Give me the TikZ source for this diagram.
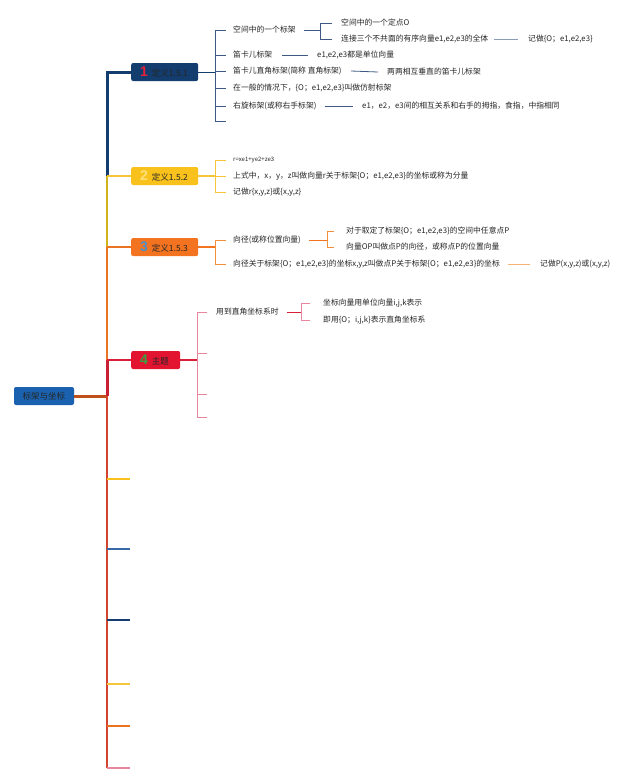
\documentclass[tikz,border=0pt]{standalone}
\usepackage{fontspec}
\setmainfont{Noto Sans CJK SC}
\newfontfamily\numfont{Liberation Sans}
\definecolor{navy}{HTML}{123D6E}
\definecolor{navyl}{HTML}{3E5A82}
\definecolor{ybox}{HTML}{F9C11B}
\definecolor{yline}{HTML}{F6C63A}
\definecolor{obox}{HTML}{F47320}
\definecolor{oline}{HTML}{F0913A}
\definecolor{rbox}{HTML}{E31430}
\definecolor{rline}{HTML}{D8203A}
\definecolor{pink}{HTML}{E8869E}
\definecolor{rootblue}{HTML}{1A62B0}
\definecolor{olive}{HTML}{D3B31A}
\definecolor{otrunk}{HTML}{E9731F}
\definecolor{rtrunk}{HTML}{C92036}
\definecolor{ltrunk}{HTML}{D2442E}
\definecolor{rootline}{HTML}{C0501A}
\definecolor{txt}{HTML}{262626}
\definecolor{numone}{HTML}{E8203A}
\definecolor{numtwo}{HTML}{FFE27A}
\definecolor{numthree}{HTML}{4A90C8}
\definecolor{numfour}{HTML}{3AA040}
\definecolor{bluetick}{HTML}{3868A8}
\begin{document}
\begin{tikzpicture}[x=1pt,y=-1pt,
  leaf/.style={anchor=west, inner sep=0pt, font=\fontsize{7.8}{9}\selectfont, text=txt},
  tiny/.style={leaf, font=\fontsize{6}{7}\selectfont},
  box/.style={anchor=west, rounded corners=2pt, minimum height=18pt, inner sep=0pt, font=\fontsize{8.5}{9}\selectfont, text=txt},
  rootbox/.style={rounded corners=2pt, minimum width=60pt, minimum height=18pt, inner sep=0pt, fill=rootblue, font=\fontsize{8.5}{9}\selectfont, text=txt},
  l1/.style={draw=navyl, line width=0.8pt},
  l2/.style={draw=yline, line width=0.8pt},
  l3/.style={draw=oline, line width=0.8pt},
  l4/.style={draw=pink, line width=0.8pt}]
\useasboundingbox (0,0) rectangle (640,782);
\fill[white] (0,0) rectangle (640,782);

% root
\node[rootbox] (root) at (44,396) {标架与坐标};

% main boxes
\node[box, fill=navy] (b1) at (131,72) {\hbox to 67pt{\hspace{9pt}{\numfont\bfseries\fontsize{14}{14}\selectfont\color{numone}1}\hspace{4pt}定义1.5.1\hfil}};
\node[box, fill=ybox] (b2) at (131,176) {\hbox to 67pt{\hspace{9pt}{\numfont\bfseries\fontsize{14}{14}\selectfont\color{numtwo}2}\hspace{4pt}定义1.5.2\hfil}};
\node[box, fill=obox] (b3) at (131,247) {\hbox to 67pt{\hspace{9pt}{\numfont\bfseries\fontsize{14}{14}\selectfont\color{numthree}3}\hspace{4pt}定义1.5.3\hfil}};
\node[box, fill=rbox] (b4) at (131,360) {\hbox to 49pt{\hspace{9pt}{\numfont\bfseries\fontsize{14}{14}\selectfont\color{numfour}4}\hspace{4pt}主题\hfil}};

% trunk
\coordinate (tr) at (107,396);
\coordinate (tb) at (107,768);
\draw[rootline, line width=3pt] (root.east) -- (tr);
\draw[navy, line width=3pt] (b1.west) -- (tr |- b1.west) -- (tr |- b2.west);
\draw[olive, line width=2.5pt] (tr |- b2.west) -- (tr |- b3.west);
\draw[yline, line width=1.5pt] (tr |- b2.west) -- (b2.west);
\draw[otrunk, line width=2.5pt] (tr |- b3.west) -- (tr |- b4.west);
\draw[otrunk, line width=2.5pt] (tr |- b3.west) -- (b3.west);
\draw[rtrunk, line width=3pt] (tr |- b4.west) -- (tr);
\draw[rline, line width=2pt] (tr |- b4.west) -- (b4.west);
\draw[ltrunk, line width=1.8pt] (tr) -- (tb);

% lower empty ticks
\coordinate (z1) at (130,479);
\coordinate (z2) at (130,549);
\coordinate (z3) at (130,620);
\coordinate (z4) at (130,684);
\coordinate (z5) at (130,726);
\coordinate (z6) at (130,768);
\draw[ybox, line width=2.5pt] (tr |- z1) -- (z1);
\draw[bluetick, line width=1.2pt] (tr |- z2) -- (z2);
\draw[navy, line width=2.5pt] (tr |- z3) -- (z3);
\draw[yline, line width=1.2pt] (tr |- z4) -- (z4);
\draw[otrunk, line width=2pt] (tr |- z5) -- (z5);
\draw[pink, line width=1.2pt] (tr |- z6) -- (z6);

% ---------- branch 1 ----------
\node[leaf] (a1) at (233,30) {空间中的一个标架};
\node[leaf] (a2) at (233,55) {笛卡儿标架};
\node[leaf] (a3) at (233,71) {笛卡儿直角标架(简称 直角标架)};
\node[leaf] (a4) at (233,88) {在一般的情况下，\{O；e1,e2,e3\}叫做仿射标架};
\node[leaf] (a5) at (233,106) {右旋标架(或称右手标架)};
\coordinate (a6) at (226,121);
\coordinate (k1) at (215,72);
\draw[navy, line width=1pt] (b1.east) -- (k1);
\draw[l1] ([xshift=-7pt]a1.west) -- (k1 |- a1.west) -- (k1 |- a6) -- (a6);
\foreach \n in {a2,a3,a4,a5} \draw[l1] (k1 |- \n.west) -- ([xshift=-7pt]\n.west);

\node[leaf] (s1) at (341,23) {空间中的一个定点O};
\node[leaf] (s2) at (341,39) {连接三个不共面的有序向量e1,e2,e3的全体};
\node[leaf] (s3) at (528,39) {记做\{O；e1,e2,e3\}};
\coordinate (k11) at (320,30);
\draw[l1] ([xshift=8pt]a1.east) -- (k11);
\draw[l1] ([xshift=-9pt]s1.west) -- (k11 |- s1.west) -- (k11 |- s2.west) -- ([xshift=-9pt]s2.west);
\draw[l1, draw=navyl!60] ([xshift=6pt]s2.east) -- ([xshift=-10pt]s3.west);

\node[leaf] (t2) at (317,55) {e1,e2,e3都是单位向量};
\node[leaf] (t3) at (387,72) {两两相互垂直的笛卡儿标架};
\node[leaf] (t5) at (362,106) {e1，e2，e3间的相互关系和右手的拇指，食指，中指相同};
\draw[l1] ([xshift=10pt]a2.east) -- ([xshift=-9pt]t2.west);
\draw[l1] ([xshift=9pt]a3.east) -- ([xshift=-9pt]t3.west);
\draw[l1] ([xshift=8pt]a5.east) -- ([xshift=-9pt]t5.west);

% ---------- branch 2 ----------
\node[tiny] (e1) at (233,160) {r=xe1+ye2+ze3};
\node[leaf] (e2) at (233,176) {上式中，x，y，z叫做向量r关于标架\{O；e1,e2,e3\}的坐标或称为分量};
\node[leaf] (e3) at (233,192) {记做r\{x,y,z\}或\{x,y,z\}};
\coordinate (k2) at (215,176);
\draw[l2, line width=1.2pt] (b2.east) -- (k2);
\draw[l2] ([xshift=-7pt]e1.west) -- (k2 |- e1.west) -- (k2 |- e3.west) -- ([xshift=-7pt]e3.west);
\draw[l2] (k2 |- e2.west) -- ([xshift=-7pt]e2.west);

% ---------- branch 3 ----------
\node[leaf] (c1) at (233,240) {向径(或称位置向量)};
\node[leaf] (c2) at (233,264) {向径关于标架\{O；e1,e2,e3\}的坐标x,y,z叫做点P关于标架\{O；e1,e2,e3\}的坐标};
\coordinate (k3) at (215,247);
\draw[obox, line width=1.2pt] (b3.east) -- (k3);
\draw[l3] ([xshift=-7pt]c1.west) -- (k3 |- c1.west) -- (k3 |- c2.west) -- ([xshift=-7pt]c2.west);

\node[leaf] (d1) at (346,231) {对于取定了标架\{O；e1,e2,e3\}的空间中任意点P};
\node[leaf] (d2) at (346,247) {向量OP叫做点P的向径，或称点P的位置向量};
\node[leaf] (d3) at (540,264) {记做P(x,y,z)或(x,y,z)};
\coordinate (k31) at (327,240);
\draw[obox, line width=1pt] ([xshift=8pt]c1.east) -- (k31);
\draw[l3] ([xshift=-12pt]d1.west) -- (k31 |- d1.west) -- (k31 |- d2.west) -- ([xshift=-12pt]d2.west);
\draw[l3, draw=oline!70] ([xshift=8pt]c2.east) -- ([xshift=-10pt]d3.west);

% ---------- branch 4 ----------
\node[leaf] (f1) at (216,312) {用到直角坐标系时};
\coordinate (f2) at (207,353);
\coordinate (f3) at (207,394);
\coordinate (f4) at (207,417);
\coordinate (k4) at (197,360);
\draw[rline, line width=1.2pt] (b4.east) -- (k4);
\draw[l4] ([xshift=-9pt]f1.west) -- (k4 |- f1.west) -- (k4 |- f4) -- (f4);
\draw[l4] (k4 |- f2) -- (f2);
\draw[l4] (k4 |- f3) -- (f3);

\node[leaf] (g1) at (323,303) {坐标向量用单位向量i,j,k表示};
\node[leaf] (g2) at (323,320) {即用\{O；i,j,k\}表示直角坐标系};
\coordinate (k41) at (301,312);
\draw[rline, line width=1pt] ([xshift=8pt]f1.east) -- (k41);
\draw[l4] ([xshift=-13pt]g1.west) -- (k41 |- g1.west) -- (k41 |- g2.west) -- ([xshift=-13pt]g2.west);
\end{tikzpicture}
\end{document}
